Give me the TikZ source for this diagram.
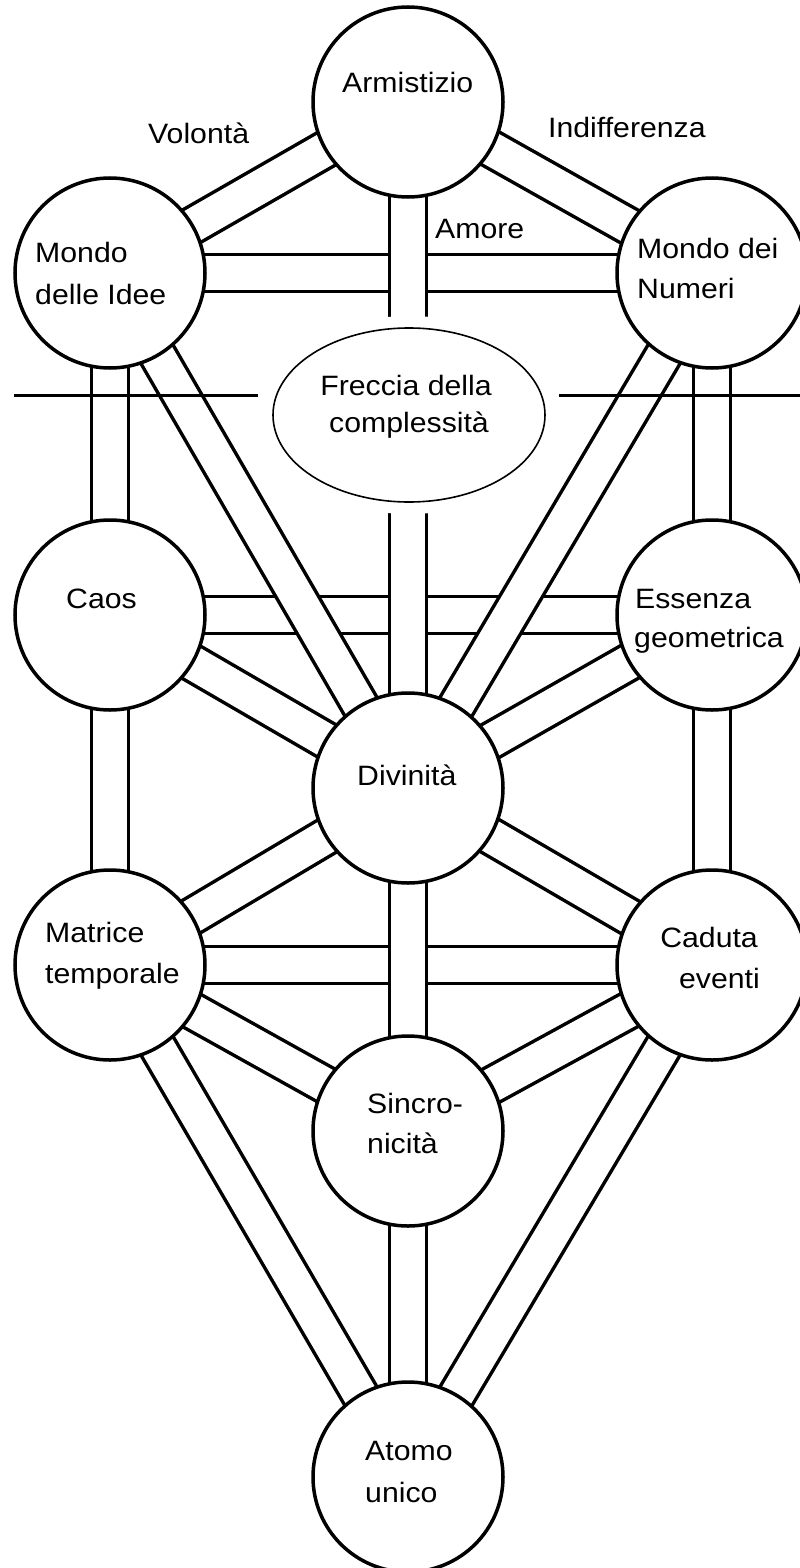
\documentclass[tikz,border=0pt]{standalone}
\usepackage{fontspec}
\newfontfamily\lblfont[FakeStretch=1.08]{Liberation Sans}
\usetikzlibrary{shapes.geometric}
\begin{document}
\begin{tikzpicture}[x=1pt,y=-1pt,
  sephira/.style={circle, draw=black, fill=white, line width=3.5pt, minimum size=190pt, inner sep=0pt},
  chan/.style={line width=3.5pt, draw=black, double=white, double distance=33.5pt},
  arrowell/.style={ellipse, draw=black, fill=white, line width=1.6pt, minimum width=272pt, minimum height=174pt, inner sep=0pt, preaction={draw=white, line width=24pt}},
  lbl/.style={font=\lblfont\fontsize{28pt}{41pt}\selectfont, inner sep=0pt, text=black},
  divider/.style={draw=black, line width=3pt}]
\useasboundingbox (0,0) rectangle (800,1568);
\fill[white] (0,0) rectangle (800,1568);
\clip (0,0) rectangle (800,1568);

% centres
\coordinate (pA) at (408,102);
\coordinate (pMI) at (110,273);
\coordinate (pMN) at (712,273);
\coordinate (pF) at (409,415);
\coordinate (pC) at (110,615);
\coordinate (pE) at (712,615);
\coordinate (pD) at (408,788);
\coordinate (pMT) at (110,965);
\coordinate (pCE) at (712,965);
\coordinate (pS) at (408,1131);
\coordinate (pAU) at (408,1477);

% invisible anchors for channel routing
\node[inner sep=0pt] (A) at (pA) {};
\node[inner sep=0pt] (MI) at (pMI) {};
\node[inner sep=0pt] (MN) at (pMN) {};
\node[inner sep=0pt] (C) at (pC) {};
\node[inner sep=0pt] (E) at (pE) {};
\node[inner sep=0pt] (D) at (pD) {};
\node[inner sep=0pt] (MT) at (pMT) {};
\node[inner sep=0pt] (CE) at (pCE) {};
\node[inner sep=0pt] (S) at (pS) {};
\node[inner sep=0pt] (AU) at (pAU) {};

% horizontal channels (underneath)
\draw[chan] (MI.center) -- (MN.center);
\draw[chan] (C.center) -- (E.center);
\draw[chan] (MT.center) -- (CE.center);

% other channels
\draw[chan] (A.center) -- (MI.center);
\draw[chan] (A.center) -- (MN.center);
\draw[chan] (MI.center) -- (C.center);
\draw[chan] (MN.center) -- (E.center);
\draw[chan] (C.center) -- (MT.center);
\draw[chan] (E.center) -- (CE.center);
\draw[chan] (MI.center) -- (D.center);
\draw[chan] (MN.center) -- (D.center);
\draw[chan] (C.center) -- (D.center);
\draw[chan] (E.center) -- (D.center);
\draw[chan] (MT.center) -- (D.center);
\draw[chan] (CE.center) -- (D.center);
\draw[chan] (MT.center) -- (S.center);
\draw[chan] (CE.center) -- (S.center);
\draw[chan] (MT.center) -- (AU.center);
\draw[chan] (CE.center) -- (AU.center);
\draw[chan] (A.center) -- (D.center);
\draw[chan] (D.center) -- (S.center);
\draw[chan] (S.center) -- (AU.center);

% arrow of complexity
\node[arrowell] (F) at (pF) {};

% sephirot
\node[sephira] (cA) at (pA) {};
\node[sephira] (cMI) at (pMI) {};
\node[sephira] (cMN) at (pMN) {};
\node[sephira] (cC) at (pC) {};
\node[sephira] (cE) at (pE) {};
\node[sephira] (cD) at (pD) {};
\node[sephira] (cMT) at (pMT) {};
\node[sephira] (cCE) at (pCE) {};
\node[sephira] (cS) at (pS) {};
\node[sephira] (cAU) at (pAU) {};

% divider line
\coordinate (L1) at (14,395);
\coordinate (L2) at (258,395);
\coordinate (R1) at (559,395);
\coordinate (R2) at (800,395);
\draw[divider] (L1) -- (L2);
\draw[divider] (R1) -- (R2);

% labels
\node[lbl, anchor=base west] (tA) at (342,93) {Armistizio};
\node[lbl, anchor=base west] (tVol) at (148,143) {Volontà};
\node[lbl, anchor=base west] (tInd) at (548,138) {Indifferenza};
\node[lbl, anchor=base west] (tAm) at (435,238) {Amore};
\node[lbl, anchor=base west] (tMI1) at (35,262) {Mondo};
\node[lbl, anchor=base west] (tMI2) at (35,304) {delle Idee};
\node[lbl, anchor=base west] (tMN1) at (637,258) {Mondo dei};
\node[lbl, anchor=base west] (tMN2) at (637,298) {Numeri};
\node[lbl, anchor=base] (tF1) at (406,395) {Freccia della};
\node[lbl, anchor=base] (tF2) at (409,432) {complessità};
\node[lbl, anchor=base west] (tC) at (66,608) {Caos};
\node[lbl, anchor=base west] (tE1) at (635,608) {Essenza};
\node[lbl, anchor=base west] (tE2) at (634,647) {geometrica};
\node[lbl, anchor=base west] (tD) at (357,785) {Divinità};
\node[lbl, anchor=base west] (tMT1) at (45,942) {Matrice};
\node[lbl, anchor=base west] (tMT2) at (45,983) {temporale};
\node[lbl, anchor=base east] (tCE1) at (758,947) {Caduta};
\node[lbl, anchor=base east] (tCE2) at (760,988) {eventi};
\node[lbl, anchor=base west] (tS1) at (367,1113) {Sincro-};
\node[lbl, anchor=base west] (tS2) at (367,1153) {nicità};
\node[lbl, anchor=base west] (tAU1) at (365,1460) {Atomo};
\node[lbl, anchor=base west] (tAU2) at (365,1502) {unico};
\end{tikzpicture}
\end{document}
